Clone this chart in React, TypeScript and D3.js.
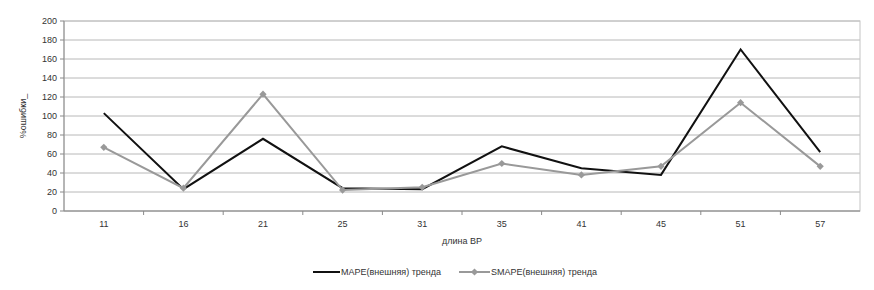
import React from 'react'
import * as d3 from 'd3'

const categories = ['11', '16', '21', '25', '31', '35', '41', '45', '51', '57']
const mapeValues = [103, 23, 76, 24, 23, 68, 45, 38, 170, 62]
const smapeValues = [67, 24, 123, 22, 25, 50, 38, 47, 114, 47]
const yTicks = [0, 20, 40, 60, 80, 100, 120, 140, 160, 180, 200]

const W = 874
const H = 290
const margin = { top: 21, right: 14, bottom: 79, left: 64 }
const font = '"Liberation Sans", Arial, sans-serif'

export default function App() {
  const innerW = W - margin.left - margin.right
  const innerH = H - margin.top - margin.bottom

  const x = d3.scaleBand().domain(categories).range([0, innerW]).padding(0)
  const y = d3.scaleLinear().domain([0, 200]).range([innerH, 0])
  const cx = (c: string) => x(c)! + x.bandwidth() / 2

  const line = d3.line<[string, number]>()
    .x(d => cx(d[0]))
    .y(d => y(d[1]))

  const mapeData = categories.map((c, i) => [c, mapeValues[i]] as [string, number])
  const smapeData = categories.map((c, i) => [c, smapeValues[i]] as [string, number])

  // ромб как повёрнутый квадрат
  const diamond = d3.symbol().type(d3.symbolSquare).size(26)()

  return (
    <svg width={W} height={H} style={{ position: 'absolute', left: 0, top: 0, background: '#fff' }}>
      <g transform={`translate(${margin.left},${margin.top})`} fontFamily={font}>
        {/* сетка */}
        {yTicks.map(t => (
          <line key={t} x1={0} x2={innerW} y1={y(t)} y2={y(t)} stroke="#b8b8b8" strokeWidth={1} />
        ))}
        <rect x={0} y={0} width={innerW} height={innerH} fill="none" stroke="#c4c4c4" />
        {/* оси */}
        <line x1={0} x2={0} y1={0} y2={innerH} stroke="#8a8a8a" />
        <line x1={0} x2={innerW} y1={innerH} y2={innerH} stroke="#8a8a8a" />
        {yTicks.map(t => (
          <g key={t}>
            <line x1={-4} x2={0} y1={y(t)} y2={y(t)} stroke="#8a8a8a" />
            <text x={-7} y={y(t)} dy="0.35em" textAnchor="end" fontSize={9} fill="#333">{t}</text>
          </g>
        ))}
        {categories.map((c, i) => (
          <g key={c}>
            {i > 0 && <line x1={x(c)} x2={x(c)} y1={innerH} y2={innerH + 4} stroke="#8a8a8a" />}
            <text x={cx(c)} y={innerH + 16} textAnchor="middle" fontSize={9} fill="#333">{c}</text>
          </g>
        ))}
        {/* линии */}
        <path d={line(mapeData)!} fill="none" stroke="#111" strokeWidth={2} />
        <path d={line(smapeData)!} fill="none" stroke="#999" strokeWidth={2} />
        {smapeData.map(d => (
          <path key={d[0]} d={diamond!} transform={`translate(${cx(d[0])},${y(d[1])}) rotate(45)`} fill="#999" />
        ))}
        {/* подписи осей */}
        <text x={innerW / 2} y={innerH + 33} textAnchor="middle" fontSize={9} fill="#333">длина ВР</text>
        <text transform={`translate(${-38},${innerH / 2}) rotate(-90)`} textAnchor="middle" fontSize={9} fill="#333">%ошибки_</text>
      </g>
      {/* легенда */}
      <g fontFamily={font} fontSize={9} fill="#333">
        <line x1={313} x2={340} y1={272} y2={272} stroke="#111" strokeWidth={2} />
        <text x={341} y={272} dy="0.35em">MAPE(внешняя) тренда</text>
        <line x1={459} x2={490} y1={272} y2={272} stroke="#999" strokeWidth={2} />
        <path d={diamond!} transform="translate(474.5,272) rotate(45)" fill="#999" />
        <text x={491} y={272} dy="0.35em">SMAPE(внешняя) тренда</text>
      </g>
    </svg>
  )
}
